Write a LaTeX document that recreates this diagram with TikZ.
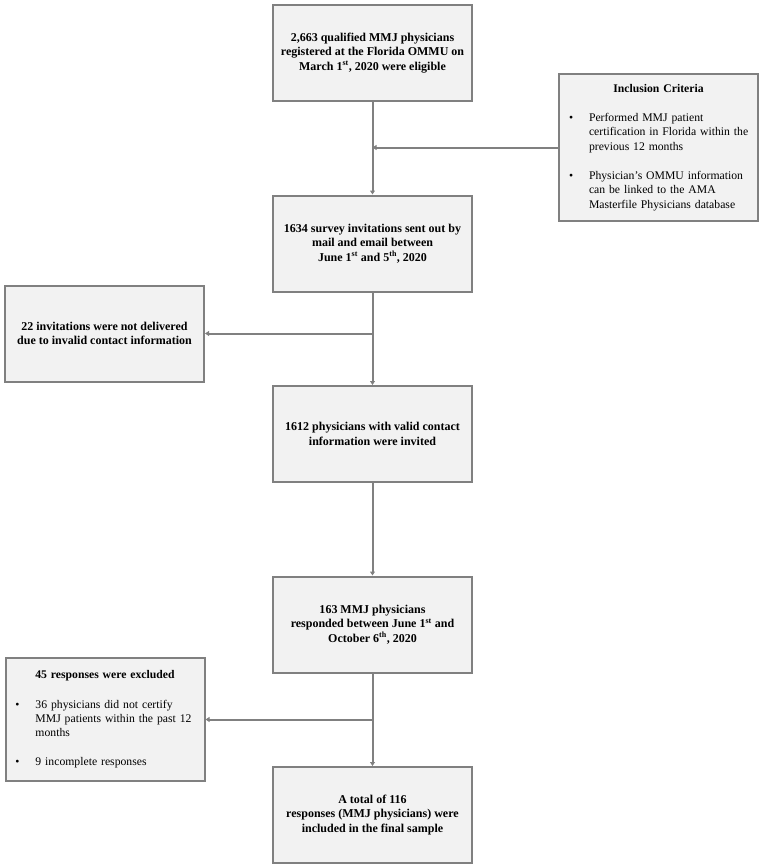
\documentclass[tikz,border=0pt]{standalone}
\usepackage{fontspec}
\setmainfont{Liberation Serif}
\usetikzlibrary{positioning,arrows.meta,calc}
\newcommand{\itm}[1]{\par\vspace{15pt}\noindent\hangindent=23pt\hangafter=1\hspace*{3pt}\makebox[20pt][l]{\textbullet}#1\par}

\begin{document}
\begin{tikzpicture}[x=1pt, y=1pt, %
    blk/.style={draw=black!50, line width=2pt, fill=black!5,
      minimum width=199pt, minimum height=96pt, inner sep=0pt,
      align=center, font=\fontsize{12}{14.3}\selectfont\bfseries},
    side/.style={draw=black!50, line width=2pt, fill=black!5,
      text width=185pt, inner xsep=7pt, inner ysep=0pt,
      font=\fontsize{11.7}{14.3}\selectfont},
    conn/.style={draw=black!50, line width=2pt, -{Triangle[length=4pt,width=5pt]}}
  ]
  \useasboundingbox (0,0) rectangle (764,-867);
  \node[blk] (n1) at (372.5,-53) {2,663 qualified MMJ physicians\\registered at the Florida OMMU on\\March 1\textsuperscript{st}, 2020 were eligible};
  \node[blk, below=92.5pt of n1] (n2) {1634 survey invitations sent out by\\mail and email between\\June 1\textsuperscript{st} and 5\textsuperscript{th}, 2020};
  \node[blk, below=92.5pt of n2] (n3) {1612 physicians with valid contact\\information were invited};
  \node[blk, below=92.5pt of n3] (n4) {163 MMJ physicians\\responded between June 1\textsuperscript{st} and\\October 6\textsuperscript{th}, 2020};
  \node[blk, below=92.5pt of n4] (n5) {A total of 116\\responses (MMJ physicians) were\\included in the final sample};

  \node[side, minimum height=147pt] (inc) at (658.5,-147.5) {%
    {\centering\bfseries Inclusion Criteria\par}\raggedright
    \itm{Performed MMJ patient\newline certification in Florida within the\newline previous 12 months}
    \itm{Physician's OMMU information\newline can be linked to the AMA\newline Masterfile Physicians database}};
  \node[blk] (n22) at (104.5,-333.5) {22 invitations were not delivered\\due to invalid contact information};
  \node[side, minimum height=123pt] (n45) at (105,-719.5) {%
    {\centering\bfseries 45 responses were excluded\par}\raggedright
    \itm{36 physicians did not certify\newline MMJ patients within the past 12\newline months}
    \itm{9 incomplete responses}};

  \draw[conn] (n1) -- (n2);
  \draw[conn] (inc.west) -- (inc.west -| n1);
  \draw[conn] (n2) -- (n3);
  \draw[conn] (n22.east -| n2) -- (n22.east);
  \draw[conn] (n3) -- (n4);
  \draw[conn] (n4) -- (n5);
  \draw[conn] (n45.east -| n4) -- (n45.east);
\end{tikzpicture}
\end{document}
